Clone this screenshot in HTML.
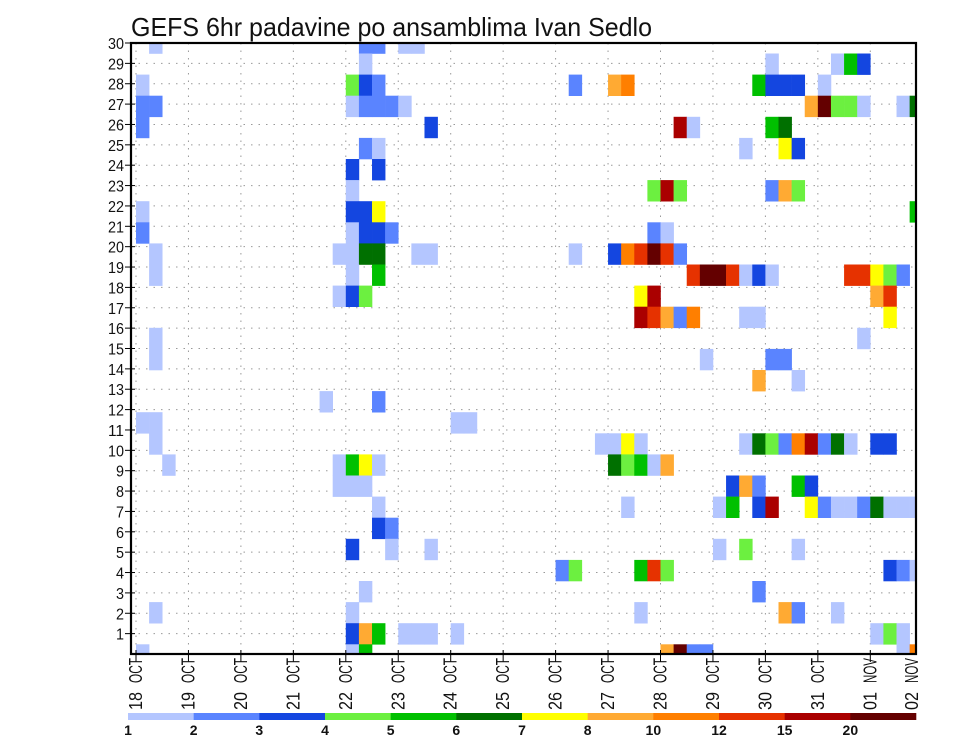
<!DOCTYPE html>
<html><head><meta charset="utf-8"><title>GEFS 6hr padavine</title>
<style>html,body{margin:0;padding:0;background:#fff;}svg{display:block;font-family:"Liberation Sans",sans-serif;}</style></head>
<body>
<svg id="chart" width="960" height="742" viewBox="0 0 960 742" xmlns="http://www.w3.org/2000/svg">
<text x="131" y="36" font-size="26" textLength="521" lengthAdjust="spacingAndGlyphs" fill="#111">GEFS 6hr padavine po ansamblima Ivan Sedlo</text>
<g id="grid"></g><g id="cells"></g><g id="axes"></g><g id="legend"></g>
</svg>
<script>
// ---- data ----
const dayLabels = ["18","19","20","21","22","23","24","25","26","27","28","29","30","31","01","02"];
const monthLabels = ["OCT","OCT","OCT","OCT","OCT","OCT","OCT","OCT","OCT","OCT","OCT","OCT","OCT","OCT","NOV","NOV"];
const memberTicks = [1,2,3,4,5,6,7,8,9,10,11,12,13,14,15,16,17,18,19,20,21,22,23,24,25,26,27,28,29,30];
const levels = [1,2,3,4,5,6,7,8,10,12,15,20];
const levelColors = ["#b4c6ff","#5a84ff","#1446e0","#6cf040","#00c000","#007000","#ffff00","#ffaa33","#ff7f00","#e63200","#aa0000","#640000"];
const members = [29,28,27,26,25,24,23,22,21,20,19,18,17,16,15,14,13,12,11,10,9,8,7,6,5,4,3,2,1,0];
const steps = [
[1,17,18,20,21],
[17,48,53,54,55],
[0,16,17,18,33,36,37,47,48,49,50,52],
[0,1,16,17,18,19,20,51,52,53,54,55,58,59],
[0,22,41,42,48,49],
[17,18,46,49,50],
[16,18],
[16,39,40,41,48,49,50],
[0,16,17,18,59],
[0,16,17,18,19,39,40],
[1,15,16,17,18,21,22,33,36,37,38,39,40,41],
[1,16,18,42,43,44,45,46,47,48,54,55,56,57,58],
[15,16,17,38,39,56,57],
[38,39,40,41,42,46,47,57],
[1,55],
[1,43,48,49],
[47,50],
[14,18],
[0,1,24,25],
[1,35,36,37,38,46,47,48,49,50,51,52,53,54,56,57],
[2,15,16,17,18,36,37,38,39,40],
[15,16,17,45,46,47,50,51],
[18,37,44,45,47,48,51,52,53,54,55,56,57,58,59],
[18,19],
[16,19,22,44,46,50],
[32,33,38,39,40,57,58,59],
[17,47],
[1,16,38,49,50,53],
[16,17,18,20,21,22,24,56,57,58],
[0,16,17,40,41,42,43,58,59]
];
const values = [
[1.5,2.5,2.5,1.5,1.5],
[1.5,1.5,1.5,5.5,3.5],
[1.5,4.5,3.5,2.5,2.5,9,11,5.5,3.5,3.5,3.5,1.5],
[2.5,2.5,1.5,2.5,2.5,2.5,1.5,9,22,4.5,4.5,1.5,1.5,6.5],
[2.5,3.5,17,1.5,5.5,6.5],
[2.5,1.5,1.5,7.5,3.5],
[3.5,3.5],
[1.5,4.5,17,4.5,2.5,9,4.5],
[1.5,3.5,3.5,7.5,5.5],
[2.5,1.5,3.5,3.5,2.5,2.5,1.5],
[1.5,1.5,1.5,6.5,6.5,1.5,1.5,1.5,3.5,11,13.5,22,13.5,2.5],
[1.5,1.5,5.5,13.5,22,22,13.5,1.5,3.5,1.5,13.5,13.5,7.5,4.5,2.5],
[1.5,3.5,4.5,7.5,17,9,13.5],
[17,13.5,9,2.5,11,1.5,1.5,7.5],
[1.5,1.5],
[1.5,1.5,2.5,2.5],
[9,1.5],
[1.5,2.5],
[1.5,1.5,1.5,1.5],
[1.5,1.5,1.5,7.5,1.5,1.5,6.5,4.5,2.5,11,17,2.5,6.5,1.5,3.5,3.5],
[1.5,1.5,5.5,7.5,1.5,6.5,4.5,5.5,1.5,9],
[1.5,1.5,1.5,3.5,9,2.5,5.5,3.5],
[1.5,1.5,1.5,5.5,3.5,17,7.5,2.5,1.5,1.5,2.5,6.5,1.5,1.5,1.5],
[3.5,2.5],
[3.5,1.5,1.5,1.5,4.5,1.5],
[2.5,4.5,5.5,13.5,4.5,3.5,2.5,1.5],
[1.5,2.5],
[1.5,1.5,1.5,9,2.5,1.5],
[3.5,9,5.5,1.5,1.5,1.5,1.5,1.5,4.5,1.5],
[1.5,1.5,5.5,9,22,2.5,2.5,1.5,11]
];
// ---- geometry ----
const PL=131, PR=916, PT=43, PB=654;
const X0=136, DAY=52.45, STEP=DAY/4;
const CELL_H=21.1, CELL_BASE=644.3;
function xDay(i){return X0+i*DAY;}
function xStep(s){return X0+s*STEP;}
function yCellTop(m){return CELL_BASE-CELL_H*m;}
function yTick(n){return PB-n*(PB-PT)/30;}
function colorFor(v){let c=levelColors[0];for(let i=0;i<levels.length;i++){if(v>=levels[i])c=levelColors[i];}return c;}
const NS="http://www.w3.org/2000/svg";
function mk(tag,attrs,parent){const e=document.createElementNS(NS,tag);for(const k in attrs)e.setAttribute(k,attrs[k]);parent.appendChild(e);return e;}
const grid=document.getElementById('grid'),cells=document.getElementById('cells'),axes=document.getElementById('axes'),legend=document.getElementById('legend');
// grid
memberTicks.forEach(n=>{const y=yTick(n);const l=mk('line',{x1:PL,x2:PR,y1:y,y2:y,stroke:'#999','stroke-width':1,'stroke-dasharray':'1.5,6'},grid);

});
dayLabels.forEach((d,i)=>{const x=xDay(i);if(x>PR)return;const l=mk('line',{x1:x,x2:x,y1:PT,y2:PB,stroke:'#999','stroke-width':1,'stroke-dasharray':'1.5,6'},grid);

});
// cells
members.forEach((m,mi)=>{steps[mi].forEach((s,j)=>{
 let x=xStep(s),w=STEP,y=yCellTop(m),h=CELL_H;
 if(x+w>PR)w=PR-x; if(y<PT){h-=PT-y;y=PT;} if(y+h>PB)h=PB-y;
 const r=mk('rect',{x:x.toFixed(2),y:y.toFixed(2),width:(w+0.3).toFixed(2),height:(h+0.3).toFixed(2),fill:colorFor(values[mi][j])},cells);
 
 
});});
// frame
const fr=mk('rect',{x:PL,y:PT,width:PR-PL,height:PB-PT,fill:'none',stroke:'#000','stroke-width':2.2},axes);


// y ticks & labels
memberTicks.forEach(n=>{const y=yTick(n);
 const t=mk('line',{x1:PL-6,x2:PL+4,y1:y,y2:y,stroke:'#000','stroke-width':1},axes);
 
 
 const tx=mk('text',{x:PL-7,y:y+6,'font-size':16,'text-anchor':'end',fill:'#111',textLength:String(n).length*8,lengthAdjust:'spacingAndGlyphs'},axes);
 tx.textContent=n;
 
 });
// x ticks & labels
dayLabels.forEach((d,i)=>{let x=xDay(i);const lx=Math.min(x,912);
 if(x<=PR){const t=mk('line',{x1:x,x2:x,y1:PB-4,y2:PB+8,stroke:'#000','stroke-width':1},axes);
 
 }
 const m=mk('text',{transform:`translate(${lx+6},658) rotate(-90)`,'font-size':18,'text-anchor':'end',fill:'#111',textLength:25,lengthAdjust:'spacingAndGlyphs'},axes);
 m.textContent=monthLabels[i];
 
 
 const dd=mk('text',{transform:`translate(${lx+6},692) rotate(-90)`,'font-size':18,'text-anchor':'end',fill:'#111',textLength:18,lengthAdjust:'spacingAndGlyphs'},axes);
 dd.textContent=d;
 
 });
// legend
const LX0=128,LX1=916,LW=(LX1-LX0)/levels.length;
levels.forEach((lv,i)=>{const r=mk('rect',{x:LX0+i*LW,y:713,width:LW+0.3,height:7,fill:levelColors[i]},legend);
 
 
 const t=mk('text',{x:LX0+i*LW,y:735,'font-size':14,'font-weight':'bold','text-anchor':'middle',fill:'#111'},legend);
 t.textContent=lv;
 
 });
</script>
</body></html>
